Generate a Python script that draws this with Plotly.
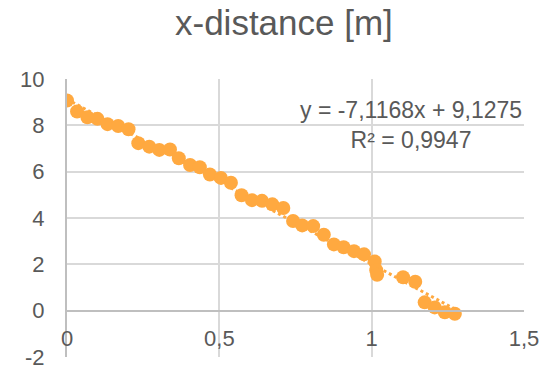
import plotly.graph_objects as go

# data
time_s = [0.0, 0.033, 0.067, 0.1, 0.133, 0.168, 0.202, 0.234, 0.27, 0.303,
          0.338, 0.367, 0.404, 0.436, 0.469, 0.505, 0.538, 0.573, 0.607, 0.64,
          0.674, 0.71, 0.742, 0.772, 0.808, 0.843, 0.876, 0.908, 0.942, 0.975,
          1.01, 1.015, 1.018, 1.103, 1.143, 1.174, 1.207, 1.24, 1.273]
x_distance = [9.07, 8.6, 8.35, 8.28, 8.05, 7.97, 7.83, 7.23, 7.08, 6.94,
              6.96, 6.58, 6.29, 6.19, 5.88, 5.73, 5.52, 4.98, 4.77, 4.74,
              4.59, 4.43, 3.87, 3.68, 3.65, 3.28, 2.86, 2.74, 2.57, 2.43,
              2.12, 1.75, 1.55, 1.44, 1.25, 0.36, 0.14, -0.07, -0.13]

trend_slope = -7.1168
trend_intercept = 9.1275
r_squared = 0.9947

x_ticks = [0, 0.5, 1, 1.5]
x_tick_labels = ["0", "0,5", "1", "1,5"]
y_ticks = [-2, 0, 2, 4, 6, 8, 10]
y_tick_labels = ["-2", "0", "2", "4", "6", "8", "10"]

title_text = "x-distance [m]"
eq_text = "y = -7,1168x + 9,1275<br>R² = 0,9947"

ORANGE = "#FFA940"
TEXT = "#595959"
GRID = "#D9D9D9"
AXIS = "#BFBFBF"
FONT = "Liberation Sans, Arial, sans-serif"

tx = [min(time_s), max(time_s)]
ty = [trend_slope * v + trend_intercept for v in tx]

fig = go.Figure()
fig.add_trace(go.Scatter(x=tx, y=ty, mode="lines",
                         line=dict(color=ORANGE, width=3, dash="dot"),
                         hoverinfo="skip", showlegend=False))
fig.add_trace(go.Scatter(x=time_s, y=x_distance, mode="markers",
                         marker=dict(color=ORANGE, size=14, line=dict(width=0)),
                         hoverinfo="skip", showlegend=False))

y_min, y_max = y_ticks[0], y_ticks[-1]
fig.update_layout(
    width=546, height=369,
    margin=dict(l=67, r=22, t=79, b=12, autoexpand=False),
    paper_bgcolor="white", plot_bgcolor="white",
    separators=", ",
    hovermode=False,
    font=dict(family=FONT, color=TEXT),
    title=dict(text=title_text, x=0.52, xanchor="center", y=0.971, yanchor="top",
               automargin=False,
               font=dict(family=FONT, size=35, color=TEXT)),
    xaxis=dict(range=[0, 1.5], tickvals=x_ticks, ticktext=x_tick_labels,
               showgrid=True, gridcolor=GRID, automargin=False,
               gridwidth=2, zeroline=False, showline=True, linecolor=AXIS, linewidth=2,
               anchor="free", position=(0 - y_min) / (y_max - y_min),
               ticks="outside", ticklen=8, tickcolor="rgba(0,0,0,0)",
               ticklabeloverflow="allow",
               tickfont=dict(family=FONT, size=22, color=TEXT)),
    yaxis=dict(range=[y_min, y_max], tickvals=y_ticks, ticktext=y_tick_labels,
               showgrid=True, gridcolor=GRID, automargin=False,
               gridwidth=2, zeroline=False, showline=True, linecolor=AXIS, linewidth=2,
               ticks="outside", ticklen=16, tickcolor="rgba(0,0,0,0)",
               ticklabeloverflow="allow",
               tickfont=dict(family=FONT, size=22, color=TEXT)),
    annotations=[dict(text=eq_text, xref="x", yref="y", x=1.13, y=8.0,
                      showarrow=False, align="center", xanchor="center", yanchor="middle",
                      font=dict(family=FONT, size=23, color=TEXT))],
)
fig.write_html("out.html", config={"displayModeBar": False, "staticPlot": True},
               post_script="document.body.style.margin='0';document.body.style.overflow='hidden';")
